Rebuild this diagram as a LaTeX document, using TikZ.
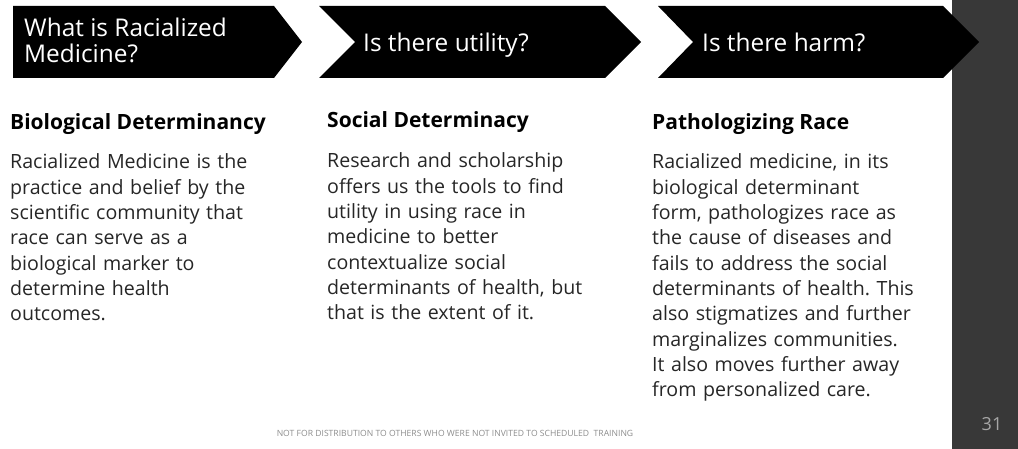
\documentclass[tikz,border=0pt]{standalone}
\usepackage{fontspec}
\setmainfont{Open Sans}
\usepackage{xcolor}
\usetikzlibrary{positioning,calc}
\frenchspacing

\definecolor{barcol}{HTML}{383838}
\definecolor{bodycol}{HTML}{262626}
\definecolor{footcol}{HTML}{8C8C8C}
\definecolor{numcol}{HTML}{A6A6A6}

\begin{document}
\begin{tikzpicture}[x=1pt, y=-1pt]
    \tikzstyle{chevron} = [fill=black, draw=none]
    \tikzstyle{steptext} = [text=white, inner sep=0, anchor=base west, align=left, font=\fontsize{24.4}{26}\selectfont]
    \tikzstyle{heading} = [text=black, inner sep=0, anchor=base west, font=\fontsize{21}{24}\selectfont\bfseries]
    \tikzstyle{body} = [text=bodycol, inner sep=0, anchor=base west, text width=300pt, align=left, font=\fontsize{19.6}{25.3}\selectfont]

    \useasboundingbox (0,0) rectangle (1018,449);

    % Seitenleiste
    \fill[barcol] (952,0) rectangle (1018,449);

    % Pfeile
    \fill[chevron] (13,6) -- (274,6) -- (302,42) -- (274,78) -- (13,78) -- cycle;
    \fill[chevron] (319,6) -- (605,6) -- (641,42) -- (605,78) -- (319,78) -- (355,42) -- cycle;
    \fill[chevron] (658,6) -- (943,6) -- (979,42) -- (943,78) -- (658,78) -- (693,42) -- cycle;

    \node[steptext] (what) at (24,63) {What is Racialized\\Medicine?};
    \node[steptext] (utility) at (363,52) {Is there utility?};
    \node[steptext] (harm) at (702,52) {Is there harm?};

    % Spalten
    \node[heading] (bio) at (10,130) {Biological Determinancy};
    \node[heading] (social) at (327,128) {Social Determinacy};
    \node[heading] (patho) at (652,130) {Pathologizing Race};

    \node[body] (biotext) at (10,169) {
        Racialized Medicine is the\\
        practice and belief by the\\
        scientific community that\\
        race can serve as a\\
        biological marker to\\
        determine health\\
        outcomes.
    };
    \node[body] (socialtext) at (327,168) {
        Research and scholarship\\
        offers us the tools to find\\
        utility in using race in\\
        medicine to better\\
        contextualize social\\
        determinants of health, but\\
        that is the extent of it.
    };
    \node[body] (pathotext) at (652,169) {
        Racialized medicine, in its\\
        biological determinant\\
        form, pathologizes race as\\
        the cause of diseases and\\
        fails to address the social\\
        determinants of health. This\\
        also stigmatizes and further\\
        marginalizes communities.\\
        It also moves further away\\
        from personalized care.
    };

    % Fusszeile
    \node[text=footcol, inner sep=0, anchor=base, font=\fontsize{8.6}{10}\selectfont] (footer) at (455,436)
        {NOT FOR DISTRIBUTION TO OTHERS WHO WERE NOT INVITED TO SCHEDULED\ \ TRAINING};
    \node[text=numcol, inner sep=0, anchor=base, font=\fontsize{18}{20}\selectfont] (pagenum) at (992,430) {31};
\end{tikzpicture}
\end{document}
